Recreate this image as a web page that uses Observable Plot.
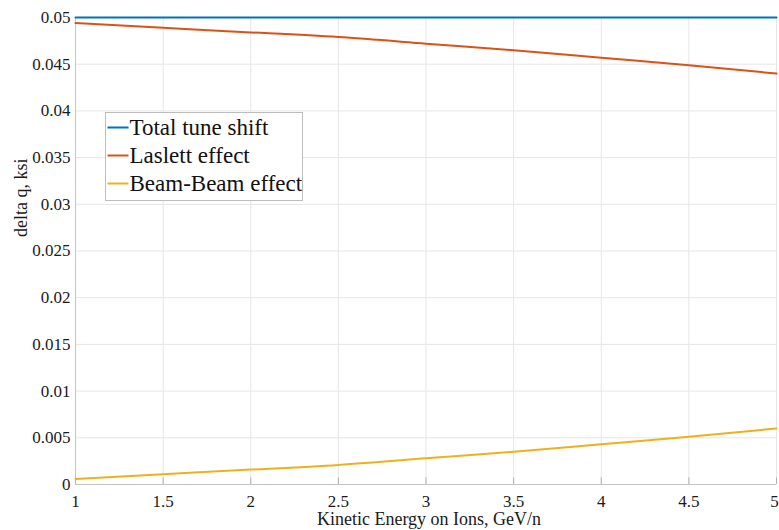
<!DOCTYPE html>
<html>
<head>
<meta charset="utf-8">
<script src="https://cdn.jsdelivr.net/npm/d3@7"></script>
<script src="https://cdn.jsdelivr.net/npm/@observablehq/plot@0.6"></script>
<style>
  body { margin: 0; background: #fff; }
</style>
</head>
<body>
<div id="chart"></div>
<script>
const energy = [1, 1.5, 2, 2.5, 3, 3.5, 4, 4.5, 5];
const totalShift = [0.05, 0.05, 0.05, 0.05, 0.05, 0.05, 0.05, 0.05, 0.05];
const laslett = [0.0494, 0.0489, 0.0484, 0.0479, 0.0472, 0.0465, 0.0457, 0.0449, 0.0440];
const beamBeam = [0.0006, 0.0011, 0.0016, 0.0021, 0.0028, 0.0035, 0.0043, 0.0051, 0.0060];
const seriesNames = ["Total tune shift", "Laslett effect", "Beam-Beam effect"];
const seriesColors = ["#0072BD", "#D95319", "#EDB120"];
const xTicks = [1, 1.5, 2, 2.5, 3, 3.5, 4, 4.5, 5];
const yTicks = [0, 0.005, 0.01, 0.015, 0.02, 0.025, 0.03, 0.035, 0.04, 0.045, 0.05];
const xLabel = "Kinetic Energy on Ions, GeV/n";
const yLabel = "delta q, ksi";

const seriesValues = [totalShift, laslett, beamBeam];
const data = [];
seriesNames.forEach((name, i) => energy.forEach((e, j) => data.push({series: name, x: e, y: seriesValues[i][j]})));

const fmt = d => String(+d.toFixed(4));
const serif = "Liberation Serif, Times New Roman, serif";
const lastTick = xTicks[xTicks.length - 1];

const chart = Plot.plot({
  width: 779,
  height: 530,
  marginLeft: 75,
  marginRight: 3,
  marginTop: 17,
  marginBottom: 46,
  style: { fontFamily: serif, fontSize: "17px", color: "#1a1a1a", background: "#fff" },
  x: { domain: [1, 5], axis: null },
  y: { domain: [0, 0.05], axis: null },
  color: { domain: seriesNames, range: seriesColors },
  marks: [
    Plot.gridX(xTicks, { stroke: "#e6e6e6", strokeOpacity: 1 }),
    Plot.gridY(yTicks, { stroke: "#e6e6e6", strokeOpacity: 1 }),
    Plot.ruleX([1], { stroke: "#c4c4c4" }),
    Plot.ruleY([0], { stroke: "#c4c4c4" }),
    Plot.ruleX(xTicks, { x: d => d, y1: 0, y2: 0.0007, stroke: "#b0b0b0" }),
    Plot.text(xTicks.filter(t => t !== lastTick), { x: d => d, text: fmt, frameAnchor: "bottom", dy: 10, lineAnchor: "top", fontSize: 17, fontFamily: serif, fill: "#1a1a1a" }),
    Plot.text([lastTick], { x: d => d, text: fmt, frameAnchor: "bottom", dx: -2, dy: 10, lineAnchor: "top", fontSize: 17, fontFamily: serif, fill: "#1a1a1a" }),
    Plot.text(yTicks, { y: d => d, text: fmt, frameAnchor: "left", dx: -5, textAnchor: "end", lineAnchor: "middle", fontSize: 17, fontFamily: serif, fill: "#1a1a1a" }),
    Plot.text([xLabel], { text: d => d, frameAnchor: "bottom", dx: 3, dy: 35, lineAnchor: "middle", fontSize: 18, fontFamily: serif, fill: "#1a1a1a" }),
    Plot.text([yLabel], { text: d => d, frameAnchor: "left", dx: -54, dy: -14, rotate: -90, lineAnchor: "middle", fontSize: 18, fontFamily: serif, fill: "#1a1a1a" }),
    Plot.line(data, { x: "x", y: "y", stroke: "series", strokeWidth: 2, curve: "natural" })
  ]
});
document.getElementById("chart").appendChild(chart);

// Legend drawn inside the SVG
const svg = d3.select(chart);
const lg = svg.append("g").attr("transform", "translate(105.5,112.5)").attr("font-family", serif).attr("text-anchor", "start");
lg.append("rect").attr("width", 197).attr("height", 88).attr("fill", "#fff").attr("stroke", "#bdbdbd");
seriesNames.forEach((n, i) => {
  const cy = 15 + i * 28;
  lg.append("line").attr("x1", 2).attr("x2", 23).attr("y1", cy).attr("y2", cy).attr("stroke", seriesColors[i]).attr("stroke-width", 2);
  lg.append("text").attr("x", 24).attr("y", cy).attr("dy", "0.34em").attr("text-anchor", "start").attr("font-size", 23).attr("fill", "#111").text(n);
});
</script>
</body>
</html>
